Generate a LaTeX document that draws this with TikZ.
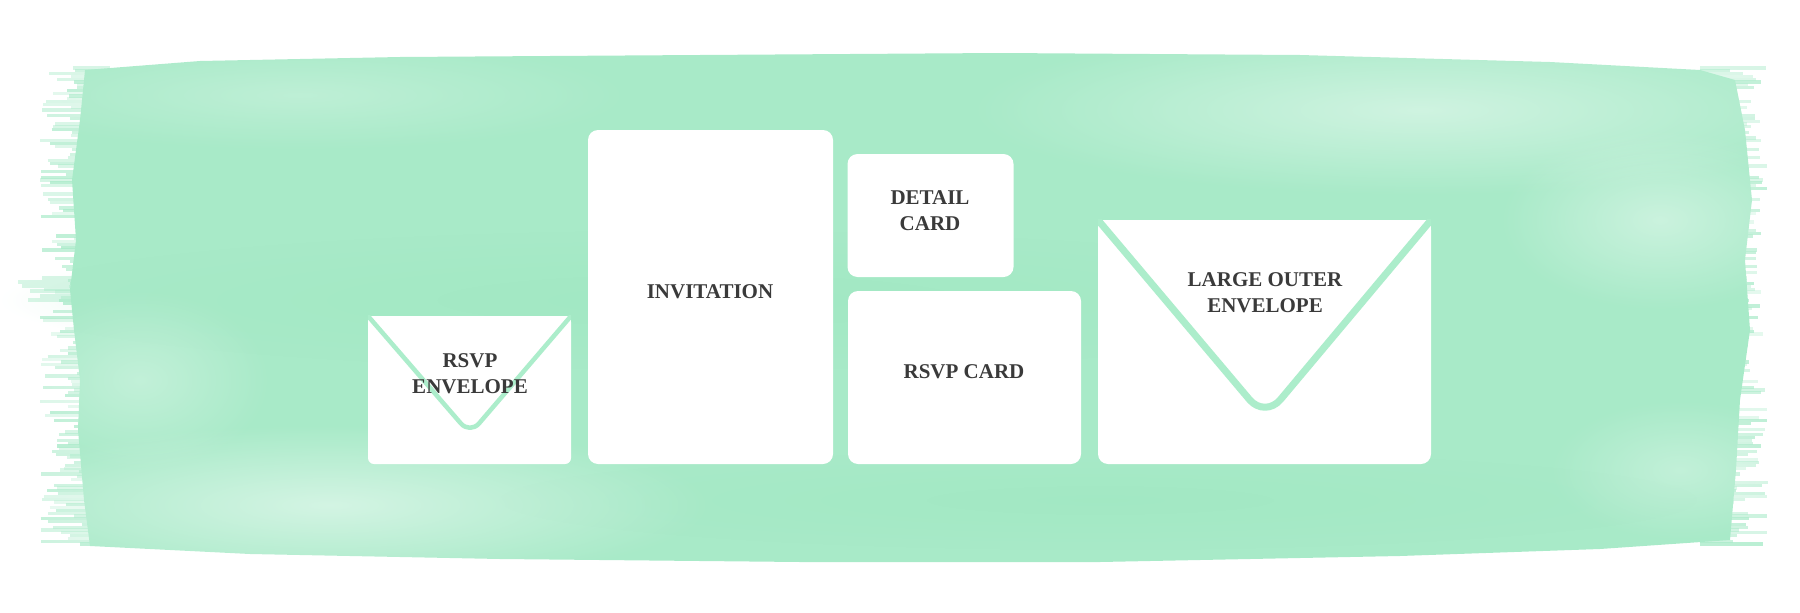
\documentclass[tikz,border=0pt]{standalone}
\usepackage{fontspec}
\setmainfont{Liberation Serif}
\usetikzlibrary{fadings,calc}
\definecolor{mint}{RGB}{168,234,200}
\definecolor{mintdark}{RGB}{160,232,194}
\definecolor{flapc}{RGB}{172,237,203}
\definecolor{ink}{RGB}{58,58,58}
\tikzfading[name=softblob, inner color=transparent!0, outer color=transparent!100]
\begin{document}
\begin{tikzpicture}[x=1pt,y=-1pt,
  card/.style={fill=white, draw=none, rounded corners=10pt, inner sep=0pt},
  lbl/.style={font=\fontsize{21}{26}\selectfont\bfseries, text=ink, align=center, inner sep=0pt},
  flap/.style={draw=flapc, line cap=round, line join=round},
  streak/.style={draw=mint, line width=3.2pt}]
\useasboundingbox (0,0) rectangle (1800,613);

% ---- watercolour brush stroke ----
\fill[mint] (85,70) -- (200,61) -- (400,57) -- (700,55) -- (1000,53) -- (1300,55)
  -- (1550,62) -- (1700,70) -- (1735,80) -- (1745,130) -- (1752,200) -- (1745,260)
  -- (1750,330) -- (1740,400) -- (1736,470) -- (1730,540) -- (1600,549) -- (1400,556)
  -- (1100,562) -- (800,562) -- (500,559) -- (250,554) -- (90,546) -- (84,500)
  -- (78,430) -- (80,380) -- (74,330) -- (70,290) -- (76,240) -- (72,180) -- (80,120) -- cycle;
\pgfmathsetseed{11}
\foreach \k in {0,...,170} {
  \pgfmathsetmacro\yy{68+\k*2.8}
  \pgfmathsetmacro\xa{40+50*rnd}
  \pgfmathsetmacro\xb{1728+40*rnd}
  \pgfmathsetmacro\op{0.3+0.5*rnd}
  \draw[streak, opacity=\op] (\xa,\yy) -- (110,\yy);
  \draw[streak, opacity=\op] (1700,\yy) -- (\xb,\yy);
}
\foreach \yy/\xa in {282/18,286/22,291/30,296/40,300/28,456/70,470/60}{
  \draw[streak, opacity=0.45] (\xa,\yy) -- (110,\yy);
}
% darker band and lighter patches
\fill[mintdark, opacity=0.8, path fading=softblob] (700,300) ellipse (700 and 70);
\fill[mintdark, opacity=0.7, path fading=softblob] (1100,500) ellipse (600 and 50);
\fill[white, opacity=0.45, path fading=softblob] (1420,110) ellipse (450 and 85);
\fill[white, opacity=0.4, path fading=softblob] (1660,220) ellipse (160 and 90);
\fill[white, opacity=0.5, path fading=softblob] (330,505) ellipse (380 and 80);
\fill[white, opacity=0.3, path fading=softblob] (140,380) ellipse (130 and 90);
\fill[white, opacity=0.25, path fading=softblob] (300,95) ellipse (330 and 55);
\fill[white, opacity=0.3, path fading=softblob] (1680,470) ellipse (130 and 70);

% ---- cards ----
\node[card, minimum width=245pt, minimum height=334pt] (inv) at (710.5,297) {};
\node[card, minimum width=166pt, minimum height=123pt] (det) at (930.5,215.5) {};
\node[card, minimum width=233pt, minimum height=173pt] (rcard) at (964.5,377.5) {};
\node[card, minimum width=203pt, minimum height=148pt, rounded corners=6pt] (renv) at (469.5,390) {};
\fill[white] (renv.north west) rectangle (renv.east);
\node[card, minimum width=333pt, minimum height=244pt] (lenv) at (1264.5,342) {};
\fill[white] (lenv.north west) rectangle (lenv.east);

% ---- envelope flaps ----
\coordinate (ra) at (470,434);
\coordinate (la) at (1265,418);
\begin{scope}
  \clip (renv.north west) rectangle (renv.south east);
  \draw[flap, line width=4.5pt, rounded corners=14pt]
    ($(ra)!1.05!(renv.north west)$) -- (ra) -- ($(ra)!1.05!(renv.north east)$);
\end{scope}
\begin{scope}
  \clip (lenv.north west) rectangle (lenv.south east);
  \draw[flap, line width=7pt, rounded corners=24pt]
    ($(la)!1.05!(lenv.north west)$) -- (la) -- ($(la)!1.05!(lenv.north east)$);
\end{scope}

% ---- labels ----
\node[lbl] (tinv) at (710,292) {INVITATION};
\node[lbl] (tdet) at (930,210.5) {DETAIL\\CARD};
\node[lbl] (trc) at (964,372) {RSVP CARD};
\node[lbl] (tre) at (470,374) {RSVP\\ENVELOPE};
\node[lbl] (tle) at (1265,293) {LARGE OUTER\\ENVELOPE};
\end{tikzpicture}
\end{document}
